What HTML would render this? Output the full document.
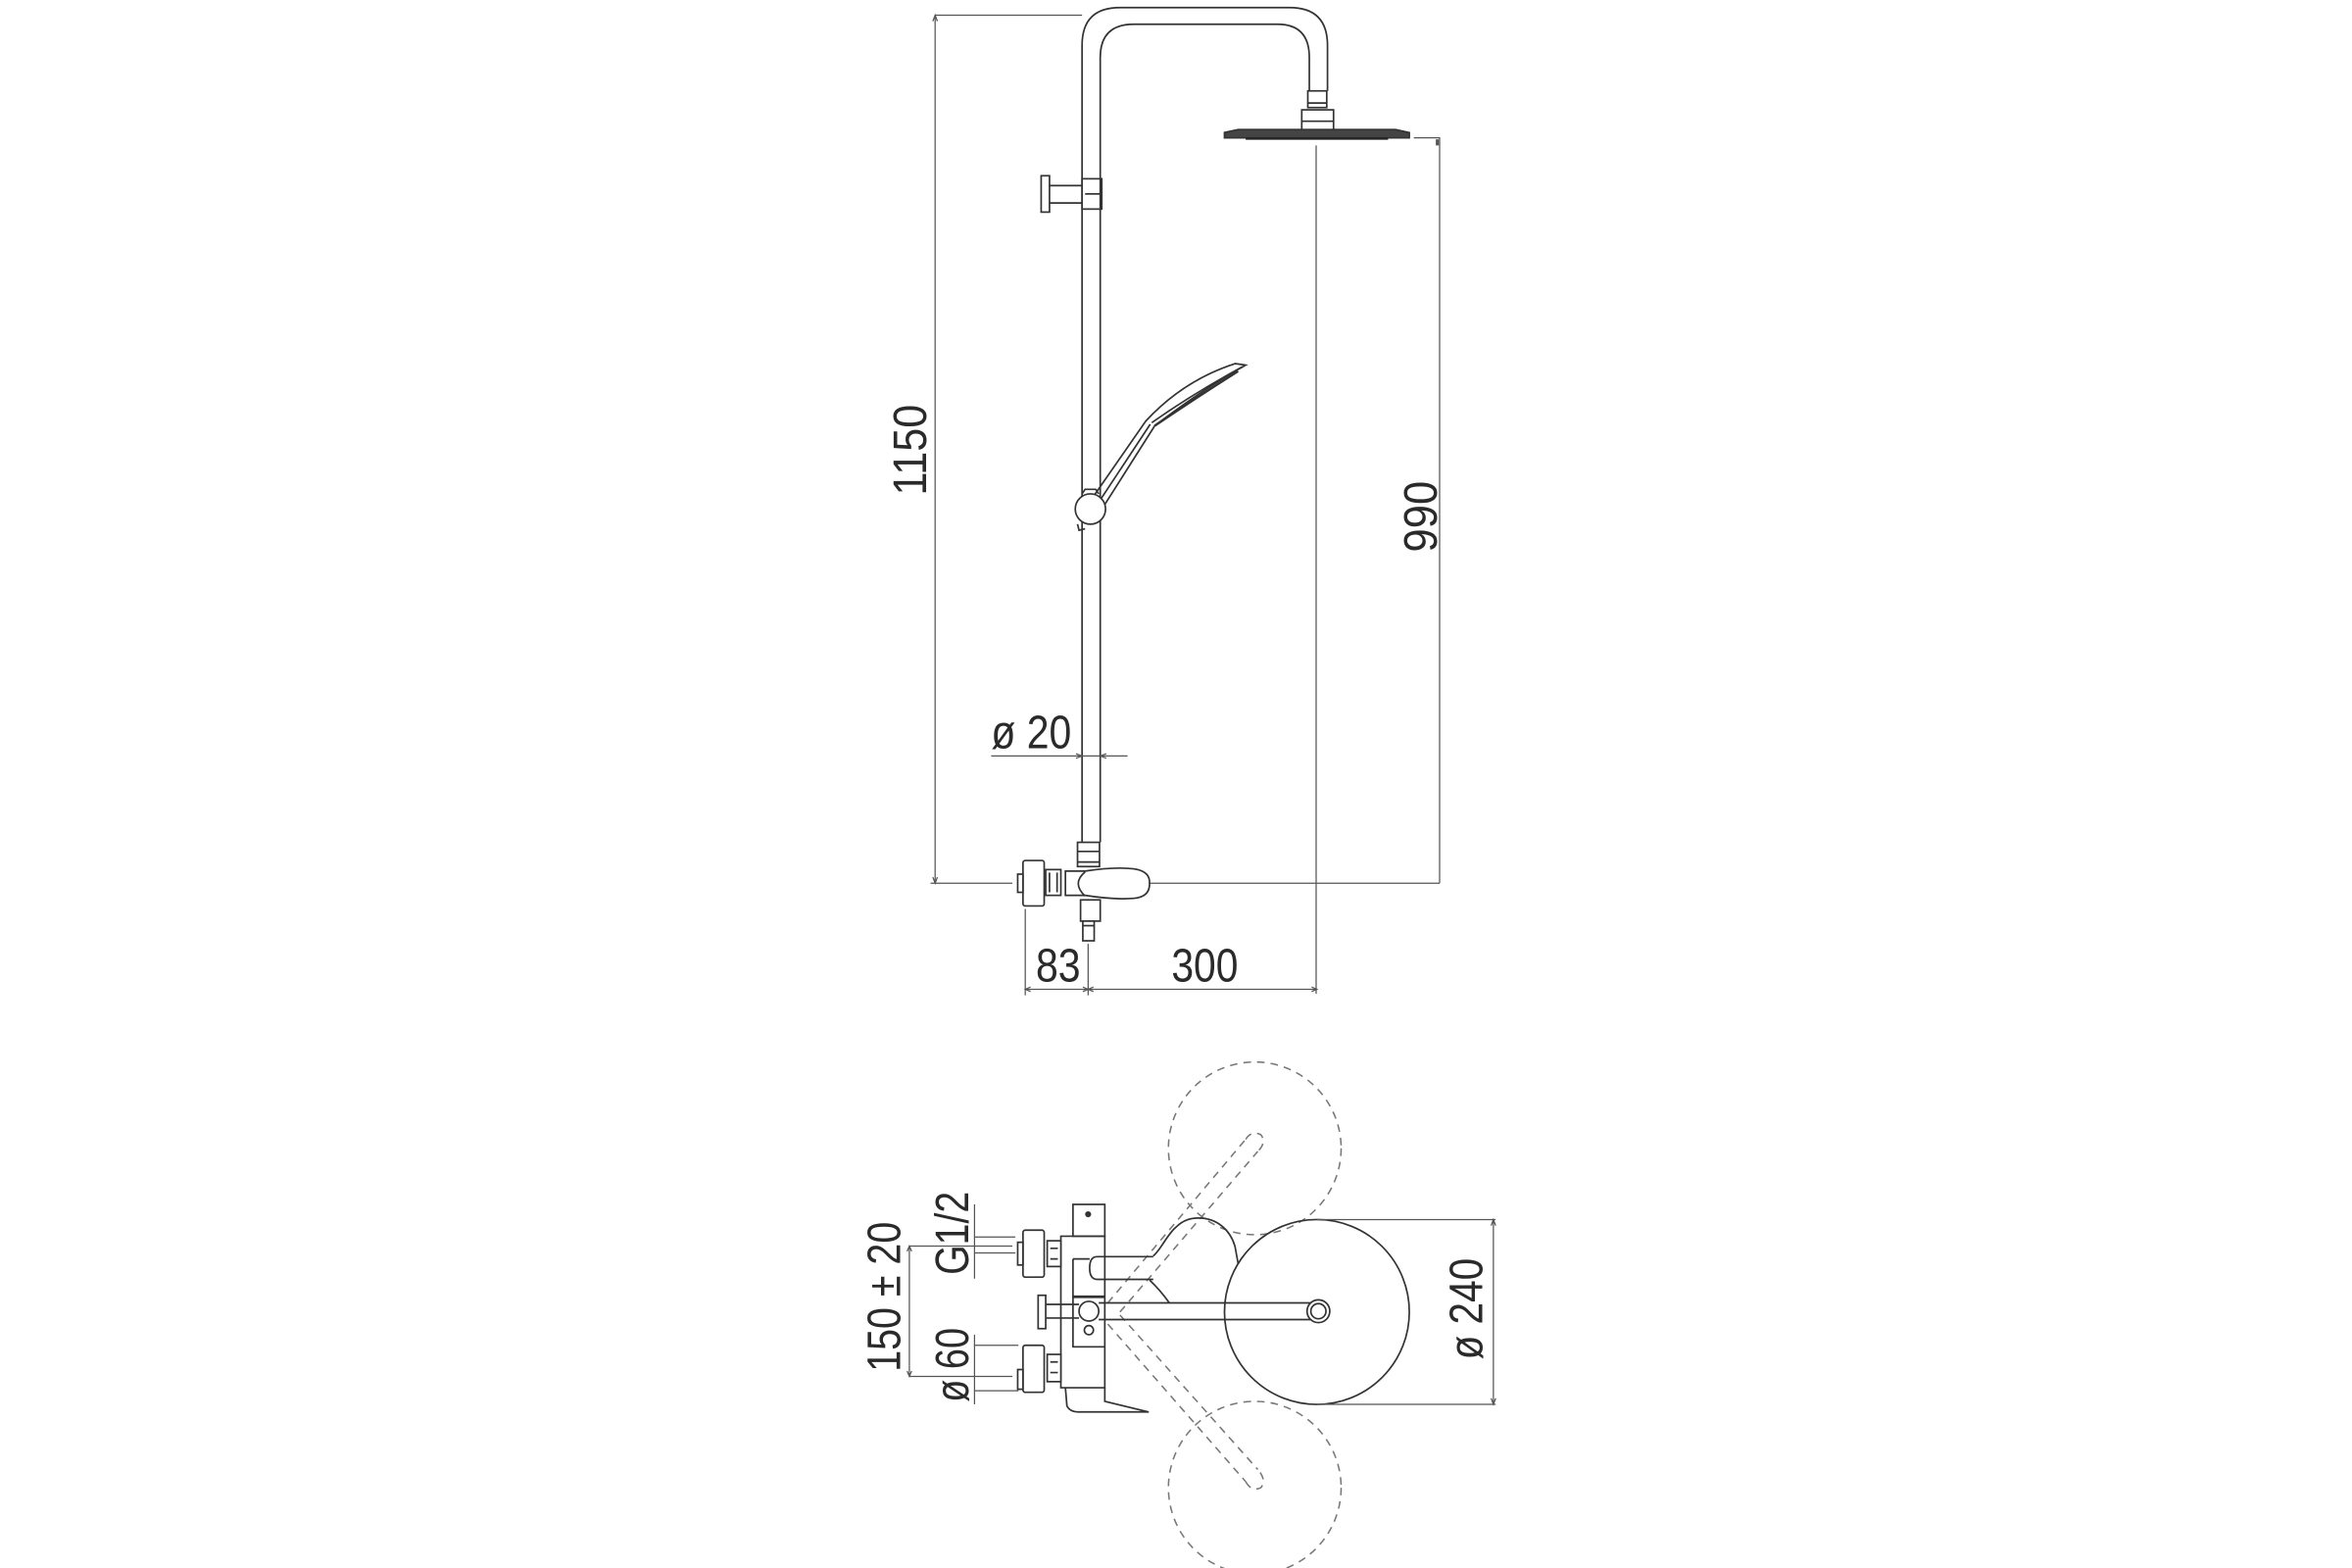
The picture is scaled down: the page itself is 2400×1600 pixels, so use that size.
<!DOCTYPE html>
<html><head><meta charset="utf-8"><style>
html,body{margin:0;padding:0;background:#fff;}
svg{display:block}
text{font-family:"Liberation Sans",Arial,sans-serif;fill:#2a2a2a;}
</style></head><body>
<svg width="2400" height="1600" viewBox="0 0 1552 1035" xmlns="http://www.w3.org/2000/svg">
<rect width="1552" height="1035" fill="#fff"/>
<g fill="none" stroke="#333" stroke-width="1.1">
<!-- ===== TOP VIEW ===== -->
<!-- dims 1150 -->
<path d="M617 10 H714 M617 10 V583 M614 583 H668 M758 583 H950" stroke="#555" stroke-width="0.8"/>
<path d="M615.5 14 L617 10 L618.5 14 M615.5 579 L617 583 L618.5 579" stroke="#555" stroke-width="0.8"/>
<!-- 990 -->
<path d="M933 91 H950 V583" stroke="#555" stroke-width="0.8"/>
<rect x="947.5" y="92" width="2" height="4" fill="#555" stroke="none"/>
<!-- center line -->
<path d="M868.5 96 V656" stroke="#555" stroke-width="0.8"/>
<!-- pipe -->
<path d="M714 556 V30 Q714 5 739 5 H851 Q876 5 876 30 V60"/>
<path d="M726 556 V38 Q726 16 748 16 H843 Q864 16 864 38 V60"/>
<!-- head connectors -->
<rect x="863" y="60" width="12.5" height="11"/>
<path d="M863 68 H875.5"/>
<rect x="859" y="72.5" width="21" height="13.5"/>
<path d="M859 80 H880"/>
<!-- plate -->
<path d="M808 87.5 L817 85.5 H921 L930 87.5 V91 H808 Z" fill="#444" stroke="#333"/>
<path d="M822 91.5 H916" stroke="#222" stroke-width="1.6"/>
<!-- bracket -->
<rect x="687" y="116" width="5.5" height="24"/>
<path d="M692.5 122.5 H714 M692.5 134 H714"/>
<rect x="714" y="118" width="13" height="20"/>
<path d="M716 128 H726"/>
<!-- hand shower -->
<path d="M722 327 L756 278 Q781 251 815 240 L822 241 Q795 256 762 281 L729 333"/>
<path d="M726 330 L759 280 M760 279 Q787 260 820 242"/>
<path d="M762 281 Q790 262 817 245" stroke-width="1.6"/>
<circle cx="719.5" cy="336" r="10" fill="#fff"/>
<path d="M714 326 L716 323 H723 L725 326"/>
<path d="M711 346 L712 350 L716 349"/>
<!-- ø20 dim -->
<path d="M654 499 H744" stroke="#555" stroke-width="0.8"/>
<path d="M710 497.5 L714 499 L710 500.5 M730 497.5 L726 499 L730 500.5" stroke="#555" stroke-width="0.8"/>
<!-- valve -->
<rect x="711" y="556" width="14.5" height="16" fill="#fff"/>
<path d="M711 562 H725.5 M711 569 H725.5"/>
<path d="M703 575 H716 Q735 572 748 573.5 Q759 575 758.5 583 Q759 592 748 593 Q735 594 716 591 H703 Z" fill="#fff"/>
<path d="M716 575.5 Q707 583 716 591.5"/>
<rect x="690" y="574" width="10" height="17" fill="#fff"/>
<path d="M692.5 576 V589 M697.5 576 V589"/>
<rect x="675" y="568" width="14" height="30" rx="1.5" fill="#fff"/>
<rect x="671.5" y="577" width="3.5" height="12" fill="#fff"/>
<rect x="713" y="594" width="13" height="14" fill="#fff"/>
<rect x="714.5" y="608" width="7.5" height="13" fill="#fff"/>
<path d="M714.5 611 H722"/>
<!-- 83 / 300 dims -->
<path d="M676.5 600 V657 M718 623 V657 M676.5 653 H869" stroke="#555" stroke-width="0.8"/>
<path d="M680 651.5 L676.5 653 L680 654.5 M714.5 651.5 L718 653 L714.5 654.5 M721.5 651.5 L718 653 L721.5 654.5 M865.5 651.5 L869 653 L865.5 654.5" stroke="#555" stroke-width="0.8"/>

<!-- ===== BOTTOM VIEW ===== -->
<!-- dashed circles -->
<g stroke="#777" stroke-dasharray="5 4" stroke-width="1">
<circle cx="828" cy="758" r="57"/>
<circle cx="828" cy="982" r="57"/>
<path d="M731 860 L822 752 M739 866 L830 760"/>
<path d="M731 874 L822 978 M739 868 L830 970"/>
<path d="M822 752 Q826 746 832 749 Q836 754 830 760"/>
<path d="M822 978 Q826 985 832 982 Q836 977 830 970"/>
</g>
<!-- big circle -->
<circle cx="869" cy="866" r="61" fill="#fff" fill-opacity="0"/>
<!-- pear -->
<path d="M761 829 C766 825 770 815 776 810 C781 805 786 804 791 804 C803 804 812 812 815 823 L817 834"/>
<path d="M758.6 845 C764 850 768 855 771.6 860"/>
<!-- spout -->
<path d="M761 829.5 H724 Q719 829.5 719 837 Q719 844.5 724 844.5 H761"/>
<!-- arm -->
<path d="M725 860 H870 M725 871 H870"/>
<circle cx="870" cy="865.5" r="7.5" fill="#fff"/>
<circle cx="870" cy="865.5" r="5" fill="#fff"/>
<!-- body -->
<rect x="708" y="795" width="21" height="21" fill="#fff"/>
<circle cx="718" cy="801.5" r="2" fill="#333" stroke="none"/>
<path d="M700 816 H729 V916 H700 Z"/>
<path d="M708 831 V889 H729 M708 831 H719"/>
<path d="M708 856 H729" stroke-width="1.8"/>
<circle cx="718.5" cy="865.5" r="6.5" fill="#fff"/>
<circle cx="718.5" cy="878" r="3"/>
<rect x="685" y="855" width="5" height="22" fill="#fff"/>
<path d="M690 861 H712 M690 870 H712"/>
<!-- upper handle -->
<rect x="691" y="819" width="9" height="17" fill="#fff"/>
<path d="M693 824 H698 M693 831 H698"/>
<rect x="675" y="812" width="14" height="31" rx="1.5" fill="#fff"/>
<rect x="671.5" y="820" width="3.5" height="15" fill="#fff"/>
<!-- lower handle -->
<rect x="691" y="894" width="9" height="18" fill="#fff"/>
<path d="M693 899 H698 M693 906 H698"/>
<rect x="675" y="888" width="14" height="31" rx="1.5" fill="#fff"/>
<rect x="671.5" y="904" width="3.5" height="13" fill="#fff"/>
<!-- lever -->
<path d="M703 916 L704 928 Q706 932 712 932 L758 932 L729 925 V916"/>
<!-- left dims -->
<g stroke="#555" stroke-width="0.8">
<path d="M643 795 V844 M643 816.5 H670 M643 827 H670"/>
<path d="M600 822.5 H668 M600 822.5 V908.5 M600 908.5 H668"/>
<path d="M643 881 V927 M643 888 H672 M643 918 H672"/>
<path d="M598.5 826 L600 822.5 L601.5 826 M598.5 905 L600 908.5 L601.5 905"/>
<!-- 240 dims -->
<path d="M869 805 H987 M869 927 H987 M985.5 805 V927"/>
<path d="M984 809 L985.5 805 L987 809 M984 923 L985.5 927 L987 923"/>
</g>
</g>

<!-- texts -->
<g font-size="31">
<text transform="translate(611,297) rotate(-90)" text-anchor="middle" textLength="60" lengthAdjust="spacingAndGlyphs">1150</text>
<text transform="translate(948,341) rotate(-90)" text-anchor="middle" textLength="47" lengthAdjust="spacingAndGlyphs">990</text>
<text x="654" y="494" textLength="53" lengthAdjust="spacingAndGlyphs">ø 20</text>
<text x="683.5" y="648" textLength="29.5" lengthAdjust="spacingAndGlyphs">83</text>
<text x="773" y="648" textLength="44" lengthAdjust="spacingAndGlyphs">300</text>
<text transform="translate(594,856) rotate(-90)" text-anchor="middle" textLength="99" lengthAdjust="spacingAndGlyphs">150 ± 20</text>
<text transform="translate(639,814) rotate(-90)" text-anchor="middle" textLength="55" lengthAdjust="spacingAndGlyphs">G1/2</text>
<text transform="translate(639,901) rotate(-90)" text-anchor="middle" textLength="49" lengthAdjust="spacingAndGlyphs">ø 60</text>
<text transform="translate(978,864) rotate(-90)" text-anchor="middle" textLength="67" lengthAdjust="spacingAndGlyphs">ø 240</text>
</g>
</svg>
</body></html>
